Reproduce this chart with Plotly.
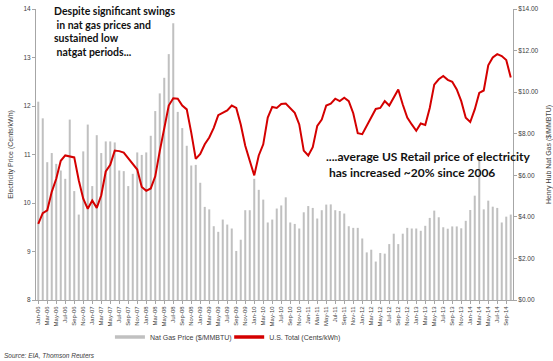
import plotly.graph_objects as go

month_names = ["Jan", "Feb", "Mar", "Apr", "May", "Jun", "Jul", "Aug", "Sep", "Oct", "Nov", "Dec"]
years = ["06", "07", "08", "09", "10", "11", "12", "13", "14"]
categories = [f"{m}-{y}" for y in years for m in month_names][:106]  # Jan-06 .. Oct-14

nat_gas = [
    9.54, 8.74, 6.63, 7.07, 6.55, 6.23, 5.83, 8.68, 5.24, 4.11, 7.15, 8.44,
    5.48, 7.93, 7.07, 7.63, 7.63, 7.58, 6.23, 6.20, 5.48, 6.07, 7.10, 6.98,
    7.10, 7.90, 9.09, 9.94, 10.69, 11.83, 13.31, 9.05, 8.27, 7.42, 6.47, 6.50,
    5.64, 4.48, 4.36, 3.55, 3.28, 3.87, 3.63, 3.44, 2.36, 2.90, 4.32, 4.32,
    5.83, 5.30, 4.83, 3.73, 3.87, 4.40, 4.55, 4.94, 3.73, 3.66, 3.44, 4.22,
    4.52, 4.43, 3.92, 4.32, 4.59, 4.60, 4.32, 4.28, 4.16, 3.55, 3.47, 3.47,
    2.96, 2.29, 2.42, 1.85, 2.26, 2.23, 2.69, 3.19, 2.69, 3.19, 3.47, 3.44,
    3.44, 3.33, 3.57, 3.95, 4.30, 3.98, 3.50, 3.43, 3.54, 3.54, 3.45, 3.81,
    4.33, 5.02, 6.90, 4.36, 4.78, 4.49, 4.43, 3.73, 4.01, 4.11,
]

electricity = [
    9.57, 9.79, 9.85, 10.23, 10.50, 10.87, 10.98, 10.96, 10.94, 10.47, 10.09, 9.88,
    10.05, 9.90, 10.16, 10.65, 10.79, 11.08, 11.07, 11.04, 10.92, 10.79, 10.69, 10.33,
    10.25, 10.30, 10.55, 11.07, 11.57, 12.01, 12.16, 12.15, 12.01, 11.93, 11.45, 10.91,
    11.01, 11.21, 11.35, 11.55, 11.81, 11.86, 11.91, 12.01, 11.96, 11.62, 11.18, 10.87,
    10.57, 10.98, 11.21, 11.76, 11.98, 11.96, 12.04, 12.05, 11.96, 11.86, 11.62, 11.08,
    10.98, 11.15, 11.59, 11.72, 12.01, 12.05, 12.15, 12.10, 12.17, 12.10, 11.85, 11.44,
    11.42, 11.59, 11.79, 11.94, 11.96, 12.10, 12.01, 12.17, 12.34, 12.03, 11.76, 11.62,
    11.49, 11.64, 11.61, 11.96, 12.44, 12.55, 12.62, 12.54, 12.50, 12.34, 12.10, 11.76,
    11.67, 11.93, 12.27, 12.32, 12.84, 13.00, 13.07, 13.03, 12.95, 12.59,
]

tick_labels = categories[::2]
left_ticks = [8, 9, 10, 11, 12, 13, 14]
right_ticks = [0, 2, 4, 6, 8, 10, 12, 14]
right_tick_text = [f"${v:.2f}" for v in right_ticks]

GRAY_AX = "#a6a6a6"
TXT = "#404040"
FONT = "Liberation Sans"
GAS_COLOR = "#c0c0c0"
ELEC_COLOR = "#d40000"

fig = go.Figure()

fig.add_trace(go.Bar(
    x=categories, y=nat_gas, yaxis="y",
    marker=dict(color=GAS_COLOR, line=dict(width=0)),
    name="Nat Gas Price ($/MMBTU)", showlegend=False,
))
fig.add_trace(go.Scatter(
    x=categories, y=electricity, yaxis="y2", mode="lines",
    line=dict(color=ELEC_COLOR, width=2),
    name="U.S. Total (Cents/kWh)", showlegend=False,
))
# legend entries
fig.add_trace(go.Scatter(
    x=[None], y=[None], mode="lines", line=dict(color=GAS_COLOR, width=3.5),
    name="Nat Gas Price ($/MMBTU)", yaxis="y", legend="legend",
))
fig.add_trace(go.Scatter(
    x=[None], y=[None], mode="lines", line=dict(color=ELEC_COLOR, width=3.5),
    name="U.S. Total (Cents/kWh)", yaxis="y", legend="legend2",
))

legend_common = dict(
    orientation="h", xanchor="left", yanchor="middle",
    font=dict(size=7, color=TXT), itemwidth=30, bgcolor="rgba(0,0,0,0)",
)

fig.update_layout(
    width=553, height=361,
    margin=dict(l=36, r=40, t=9, b=59),
    paper_bgcolor="white", plot_bgcolor="white",
    font=dict(family=FONT, size=7, color=TXT),
    bargap=0.55,
    xaxis=dict(
        type="category", tickmode="array", tickvals=tick_labels, ticktext=tick_labels,
        tickangle=-90, tickfont=dict(size=6, color=TXT), automargin=False,
        showline=True, linecolor=GRAY_AX, linewidth=1,
        ticks="outside", ticklen=3, tickcolor=GRAY_AX,
        showgrid=False, zeroline=False, range=[-0.5, len(categories) - 0.5],
    ),
    yaxis=dict(
        side="right", range=[0, 14], tickvals=right_ticks, ticktext=right_tick_text,
        showline=True, linecolor=GRAY_AX, linewidth=1, automargin=False,
        ticks="outside", ticklen=3, tickcolor=GRAY_AX,
        showgrid=False, zeroline=False, tickfont=dict(size=6.5, color=TXT),
        title=dict(text="Henry Hub Nat Gas ($/MMBTU)", font=dict(size=7, color=TXT), standoff=12),
    ),
    yaxis2=dict(
        overlaying="y", side="left", range=[8, 14], tickvals=left_ticks,
        showline=True, linecolor=GRAY_AX, linewidth=1, automargin=False,
        ticks="outside", ticklen=3, tickcolor=GRAY_AX,
        showgrid=False, zeroline=False, tickfont=dict(size=6.5, color=TXT),
        title=dict(text="Electricity Price (Cents/kWh)", font=dict(size=7, color=TXT), standoff=9),
    ),
    legend=dict(x=0.155, y=-0.127, **legend_common),
    legend2=dict(x=0.405, y=-0.127, **legend_common),
    annotations=[
        dict(
            text="<b>Despite significant swings<br>\u00a0in nat gas prices and<br>sustained low<br>\u00a0natgat periods...</b>",
            xref="paper", yref="paper", x=0.034, y=1.02, xanchor="left", yanchor="top",
            align="left", showarrow=False, font=dict(family="Lato", size=10.5, color="#111111"),
        ),
        dict(
            text="<b>....average US Retail price of electricity<br>\u00a0has increased ~20% since 2006</b>",
            xref="paper", yref="paper", x=0.604, y=0.527, xanchor="left", yanchor="top",
            align="left", showarrow=False, font=dict(family="Lato", size=12, color="#111111"),
        ),
        dict(
            text="<i>Source: EIA, Thomson Reuters</i>",
            xref="paper", yref="paper", x=-0.071, y=-0.19, xanchor="left", yanchor="middle",
            align="left", showarrow=False, font=dict(family=FONT, size=6.5, color=TXT),
        ),
    ],
)

fig.write_html(
    "out.html",
    config={"displayModeBar": False},
    post_script="document.body.style.margin='0';",
)
